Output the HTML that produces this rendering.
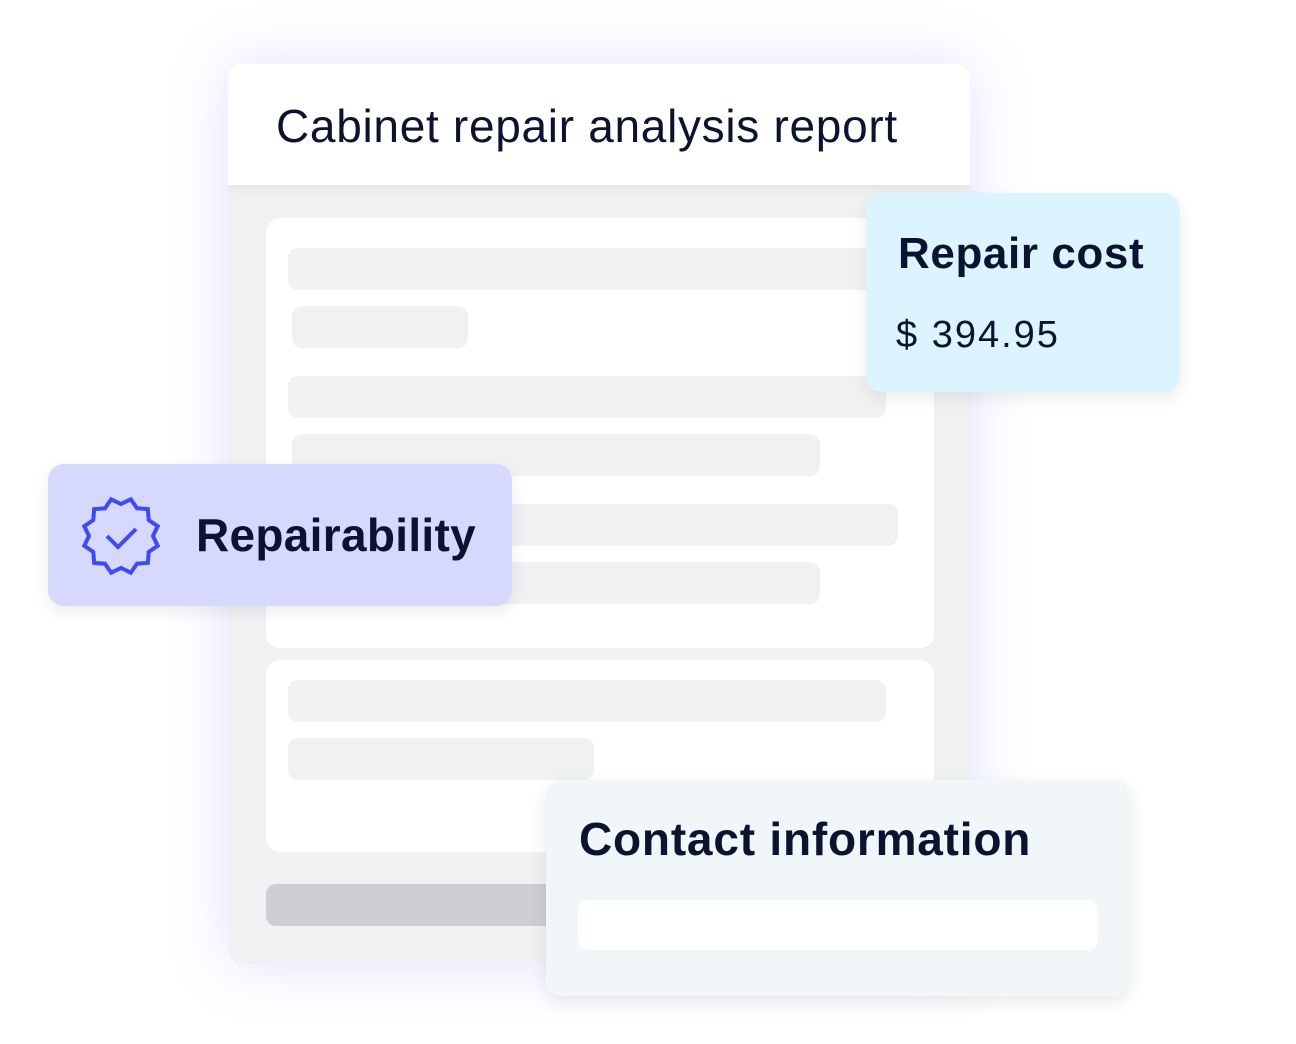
<!DOCTYPE html>
<html><head><meta charset="utf-8"><style>
html,body{margin:0;padding:0;background:#fff;width:1296px;height:1044px;overflow:hidden;position:relative;font-family:"Liberation Sans",sans-serif;color:#0b1330}
.a{position:absolute}
.main{left:228px;top:64px;width:742px;height:900px;background:#f0f1f2;border-radius:14px;box-shadow:0 0 60px rgba(120,120,255,.22);overflow:hidden}
.hdr{left:0;top:0;width:742px;height:121px;background:#fff;box-shadow:0 4px 10px rgba(0,0,0,.06)}
.w{background:#fff;border-radius:14px}
.b{background:#f0f1f2;border-radius:10px}
</style></head><body>
<div class="a main">
  <div class="a hdr"><div class="a" style="left:48px;top:35px;font-size:46px;letter-spacing:0.7px;white-space:nowrap">Cabinet repair analysis report</div></div>
</div>
<div class="a w" style="left:266px;top:218px;width:668px;height:430px"></div>
<div class="a b" style="left:288px;top:248px;width:598px;height:42px"></div>
<div class="a b" style="left:292px;top:306px;width:176px;height:42px"></div>
<div class="a b" style="left:288px;top:376px;width:598px;height:42px"></div>
<div class="a b" style="left:292px;top:434px;width:528px;height:42px"></div>
<div class="a b" style="left:292px;top:504px;width:606px;height:42px"></div>
<div class="a b" style="left:292px;top:562px;width:528px;height:42px"></div>
<div class="a w" style="left:266px;top:660px;width:668px;height:192px"></div>
<div class="a b" style="left:288px;top:680px;width:598px;height:42px"></div>
<div class="a b" style="left:288px;top:738px;width:306px;height:42px"></div>
<div class="a" style="left:266px;top:884px;width:400px;height:42px;background:#cdced3;border-radius:10px"></div>

<div class="a" style="left:866px;top:193px;width:314px;height:199px;background:#dcf4fd;border-radius:16px;box-shadow:0 6px 16px rgba(0,0,0,.08)">
  <div class="a" style="left:32px;top:36px;font-size:44px;font-weight:bold;letter-spacing:0.6px;white-space:nowrap">Repair cost</div>
  <div class="a" style="left:30px;top:121px;font-size:38px;letter-spacing:2px;white-space:nowrap">$ 394.95</div>
</div>

<div class="a" style="left:48px;top:464px;width:464px;height:142px;background:#d6d9fd;border-radius:16px;box-shadow:0 6px 16px rgba(0,0,0,.08)">
  <svg class="a" style="left:0;top:0" width="160" height="142">
    <g transform="translate(73,72) rotate(15)">
      <polygon fill="none" stroke="#3b4cf5" stroke-width="4" stroke-linejoin="miter" points="38,0 30.9,8.3 32.9,19 22.6,22.6 19,32.9 8.3,30.9 0,38 -8.3,30.9 -19,32.9 -22.6,22.6 -32.9,19 -30.9,8.3 -38,0 -30.9,-8.3 -32.9,-19 -22.6,-22.6 -19,-32.9 -8.3,-30.9 0,-38 8.3,-30.9 19,-32.9 22.6,-22.6 32.9,-19 30.9,-8.3"/>
    </g>
    <polyline points="59,72 70,83 88,65" fill="none" stroke="#3b4cf5" stroke-width="4"/>
  </svg>
  <div class="a" style="left:148px;top:44px;font-size:46px;font-weight:bold;letter-spacing:0.3px;white-space:nowrap">Repairability</div>
</div>

<div class="a" style="left:546px;top:780px;width:584px;height:216px;background:#f1f6f9;border-radius:16px;box-shadow:0 6px 18px rgba(0,0,0,.09)">
  <div class="a" style="left:33px;top:32px;font-size:46px;font-weight:bold;letter-spacing:0.8px;white-space:nowrap">Contact information</div>
  <div class="a" style="left:32px;top:120px;width:520px;height:50px;background:#fff;border-radius:10px"></div>
</div>
</body></html>
